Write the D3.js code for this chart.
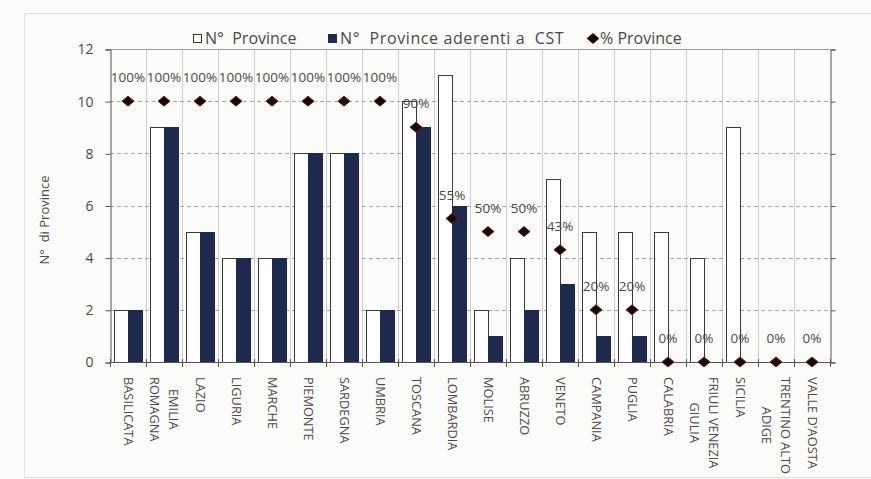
<!DOCTYPE html>
<html>
<head>
<meta charset="utf-8">
<script src="https://cdn.jsdelivr.net/npm/d3@7"></script>
<style>
  html, body { margin: 0; padding: 0; background: #fbfbf9; }
  svg { display: block; }
  text { font-family: "Open Sans", "DejaVu Sans", sans-serif; fill: #4a4a4a; white-space: pre; }
</style>
</head>
<body>
<svg id="chart" width="871" height="479"></svg>
<script>
// Regions (label lines), total provinces, provinces joining CST, share in %
const regions = [
  ["BASILICATA"], ["EMILIA", "ROMAGNA"], ["LAZIO"], ["LIGURIA"], ["MARCHE"],
  ["PIEMONTE"], ["SARDEGNA"], ["UMBRIA"], ["TOSCANA"], ["LOMBARDIA"],
  ["MOLISE"], ["ABRUZZO"], ["VENETO"], ["CAMPANIA"], ["PUGLIA"],
  ["CALABRIA"], ["FRIULI VENEZIA", "GIULIA"], ["SICILIA"], ["TRENTINO ALTO", "ADIGE"], ["VALLE D'AOSTA"]
];
const provinceTotali = [2, 9, 5, 4, 4, 8, 8, 2, 10, 11, 2, 4, 7, 5, 5, 5, 4, 9, 0, 0];
const provinceAderenti = [2, 9, 5, 4, 4, 8, 8, 2, 9, 6, 1, 2, 3, 1, 1, 0, 0, 0, 0, 0];
const percentuali = [100, 100, 100, 100, 100, 100, 100, 100, 90, 55, 50, 50, 43, 20, 20, 0, 0, 0, 0, 0];
const yTicks = [0, 2, 4, 6, 8, 10, 12];
const legendLabels = ["N\u00b0  Province", "N\u00b0  Province aderenti a  CST", "% Province"];

const svg = d3.select("#chart");
const keys = regions.map(r => r.join(" "));

const plotL = 110, plotR = 830, plotT = 49, plotB = 362;

const x = d3.scaleBand().domain(keys).range([plotL, plotR]).paddingInner(0).paddingOuter(0);
const xInner = d3.scaleBand().domain(["tot", "ade"]).range([0, x.bandwidth()])
  .paddingInner(0).paddingOuter(0.2857);
const y = d3.scaleLinear().domain([0, 12]).range([plotB, plotT]);

// outer frame
svg.append("rect")
  .attr("x", 24.5).attr("y", 13.5).attr("width", 900).attr("height", 464)
  .attr("fill", "none").attr("stroke", "#e2e2e0").attr("stroke-width", 1);

// vertical grid at category boundaries
const bounds = keys.map(k => x(k)).concat([plotR]);
svg.append("g").selectAll("line").data(bounds.slice(1, -1)).join("line")
  .attr("x1", d => Math.round(d) + 0.5).attr("x2", d => Math.round(d) + 0.5)
  .attr("y1", plotT).attr("y2", plotB)
  .attr("stroke", "#cfcfcf").attr("stroke-width", 1);

// horizontal dashed grid
svg.append("g").selectAll("line").data(yTicks.filter(v => v > 0 && v < 12)).join("line")
  .attr("x1", plotL).attr("x2", plotR)
  .attr("y1", d => Math.round(y(d)) + 0.5).attr("y2", d => Math.round(y(d)) + 0.5)
  .attr("stroke", "#a8a8a8").attr("stroke-width", 1).attr("stroke-dasharray", "4,3");

// top frame line
svg.append("line")
  .attr("x1", plotL).attr("x2", plotR)
  .attr("y1", Math.round(y(12)) + 0.5).attr("y2", Math.round(y(12)) + 0.5)
  .attr("stroke", "#9a9a9a");

// bars
const barG = svg.append("g");
keys.forEach((k, i) => {
  barG.append("rect")
    .attr("x", Math.round(x(k) + xInner("tot")) + 0.5)
    .attr("y", Math.round(y(provinceTotali[i])) + 0.5)
    .attr("width", Math.round(xInner.bandwidth()))
    .attr("height", Math.max(0, Math.round(y(0)) - Math.round(y(provinceTotali[i]))))
    .attr("fill", "#ffffff").attr("stroke", "#3a3a3a").attr("stroke-width", 1);
  barG.append("rect")
    .attr("x", Math.round(x(k) + xInner("ade")) + 0.5)
    .attr("y", Math.round(y(provinceAderenti[i])) + 0.5)
    .attr("width", Math.round(xInner.bandwidth()))
    .attr("height", Math.max(0, Math.round(y(0)) - Math.round(y(provinceAderenti[i]))))
    .attr("fill", "#1d2a4d").attr("stroke", "#1d2a4d").attr("stroke-width", 1);
});

// left axis
const yAxis = d3.axisLeft(y).tickValues(yTicks).tickSize(5).tickPadding(12);
const gy = svg.append("g").attr("transform", `translate(${plotL + 0.5},0.5)`).call(yAxis);
gy.select(".domain").attr("stroke", "#555");
gy.selectAll(".tick line").attr("stroke", "#555");
gy.selectAll(".tick text").attr("font-size", 14).attr("fill", "#4a4a4a")
  .style("font-family", '"Open Sans", sans-serif');

// right axis
const yAxisR = d3.axisRight(y).tickValues(yTicks).tickSize(5).tickFormat("");
const gyr = svg.append("g").attr("transform", `translate(${plotR + 0.5},0.5)`).call(yAxisR);
gyr.select(".domain").attr("stroke", "#555");
gyr.selectAll(".tick line").attr("stroke", "#555");

// bottom axis with ticks at category boundaries
svg.append("line")
  .attr("x1", plotL).attr("x2", plotR + 1)
  .attr("y1", Math.round(plotB) + 0.5).attr("y2", Math.round(plotB) + 0.5)
  .attr("stroke", "#555");
svg.append("g").selectAll("line").data(bounds).join("line")
  .attr("x1", d => Math.round(d) + 0.5).attr("x2", d => Math.round(d) + 0.5)
  .attr("y1", plotB - 3).attr("y2", plotB + 5)
  .attr("stroke", "#555");

// category labels, rotated; shorter lines centred on the longest
const lab = svg.append("g").selectAll("g").data(regions).join("g")
  .attr("transform", (d, i) => `translate(${x(keys[i]) + x.bandwidth() / 2},377) rotate(90)`);
lab.each(function(lines) {
  const g = d3.select(this);
  const n = lines.length;
  const widths = lines.map(s => {
    const tmp = g.append("text").attr("font-size", 12.8).text(s);
    const w = tmp.node().getComputedTextLength();
    tmp.remove();
    return w;
  });
  const maxW = d3.max(widths);
  lines.forEach((s, j) => {
    g.append("text").attr("font-size", 12.8).attr("fill", "#4e4e4e")
      .attr("x", (maxW - widths[j]) / 2)
      .attr("y", (j - (n - 1) / 2) * 19 + 4.5)
      .text(s);
  });
});

// y axis title
svg.append("text")
  .attr("transform", "translate(49,220) rotate(-90)")
  .attr("text-anchor", "middle").attr("font-size", 13).attr("fill", "#505050")
  .text("N\u00b0  di Province");

// percentage markers
const diamond = (cx, cy) => `M${cx},${cy - 5}L${cx + 6},${cy}L${cx},${cy + 5}L${cx - 6},${cy}Z`;
const pG = svg.append("g");
keys.forEach((k, i) => {
  const cx = x(k) + x.bandwidth() / 2;
  const cy = y(percentuali[i] / 10);
  pG.append("path").attr("d", diamond(cx, cy))
    .attr("fill", "#0d0d0d").attr("stroke", "#7a1010").attr("stroke-width", 1);
  pG.append("text").attr("x", cx).attr("y", cy - 19)
    .attr("text-anchor", "middle").attr("font-size", 13.5).attr("fill", "#555")
    .text(percentuali[i] + "%");
});

// legend
const lg = svg.append("g");
lg.append("rect").attr("x", 163).attr("y", 22).attr("width", 580).attr("height", 27)
  .attr("fill", "#fbfbf9");
lg.append("rect").attr("x", 193.5).attr("y", 34.5).attr("width", 8).attr("height", 8)
  .attr("fill", "#fff").attr("stroke", "#333");
lg.append("text").attr("x", 205).attr("y", 44).attr("font-size", 16).text(legendLabels[0]);
lg.append("rect").attr("x", 328).attr("y", 34).attr("width", 9).attr("height", 9)
  .attr("fill", "#1d2a4d");
lg.append("text").attr("x", 340).attr("y", 44).attr("font-size", 16)
  .attr("letter-spacing", 0.6).text(legendLabels[1]);
lg.append("path").attr("d", diamond(593, 38.5))
  .attr("fill", "#0d0d0d").attr("stroke", "#7a1010");
lg.append("text").attr("x", 600).attr("y", 44).attr("font-size", 16).text(legendLabels[2]);
</script>
</body>
</html>
